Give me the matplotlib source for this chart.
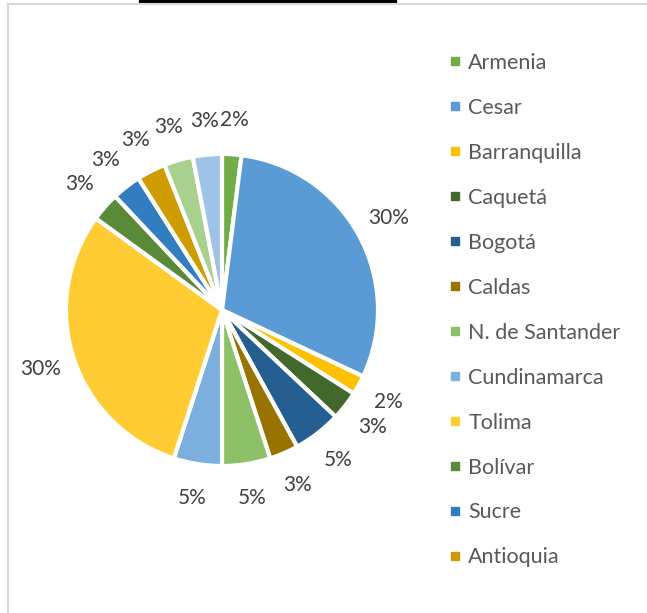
import matplotlib.pyplot as plt
from matplotlib.lines import Line2D
from matplotlib.patches import Rectangle

# Departamentos (las dos últimas porciones no aparecen en la leyenda recortada)
categorias = ["Armenia", "Cesar", "Barranquilla", "Caquetá", "Bogotá", "Caldas",
              "N. de Santander", "Cundinamarca", "Tolima", "Bolívar", "Sucre",
              "Antioquia", "Otro 1", "Otro 2"]
porcentajes = [2, 30, 2, 3, 5, 3, 5, 5, 30, 3, 3, 3, 3, 3]
colores = ["#70AD47", "#5B9BD5", "#FFC000", "#43682B", "#255E91", "#997300",
           "#8CC168", "#7CAFDD", "#FFCD33", "#5A8A39", "#327DC2", "#CF9C00",
           "#A9D18E", "#9DC3E6"]
n_leyenda = 12

W, H = 647, 613
fig = plt.figure(figsize=(W / 100, H / 100), dpi=100)
plt.rcParams['font.family'] = ['Lato', 'DejaVu Sans']

# pie centered at (222, 310) px, radius 156 px
cx, cy, r = 222, 310, 156
ax = fig.add_axes([(cx - r) / W, (H - cy - r) / H, 2 * r / W, 2 * r / H])
wedges, _, autotexts = ax.pie(
    porcentajes, colors=colores, startangle=90, counterclock=False,
    autopct='%.0f%%', pctdistance=1.22,
    wedgeprops=dict(edgecolor='white', linewidth=3),
    textprops=dict(fontsize=15, color='#404040'))
ax.set_xlim(-1, 1)
ax.set_ylim(-1, 1)

# legend (only the first entries fit in the chart area)
handles = [Line2D([0], [0], marker='s', linestyle='none', markersize=6,
                  markerfacecolor=c, markeredgecolor=c) for c in colores[:n_leyenda]]
fig.legend(handles, categorias[:n_leyenda], loc='upper left',
           bbox_to_anchor=(438 / W, 1 - 42 / H), frameon=False,
           fontsize=15.5, labelcolor='#595959', handlelength=0.6,
           handletextpad=0.3, labelspacing=1.16, borderpad=0)

# chart frame and the black bar at the top
fig.add_artist(Line2D([8 / W, 1], [1 - 4 / H, 1 - 4 / H], color='#D9D9D9', lw=1.5))
fig.add_artist(Line2D([8 / W, 8 / W], [0, 1 - 4 / H], color='#D9D9D9', lw=1.5))
fig.add_artist(Rectangle((139 / W, 1 - 3 / H), 257 / W, 3 / H, color='black',
                         transform=fig.transFigure))

fig.savefig("out.png", dpi=100)
